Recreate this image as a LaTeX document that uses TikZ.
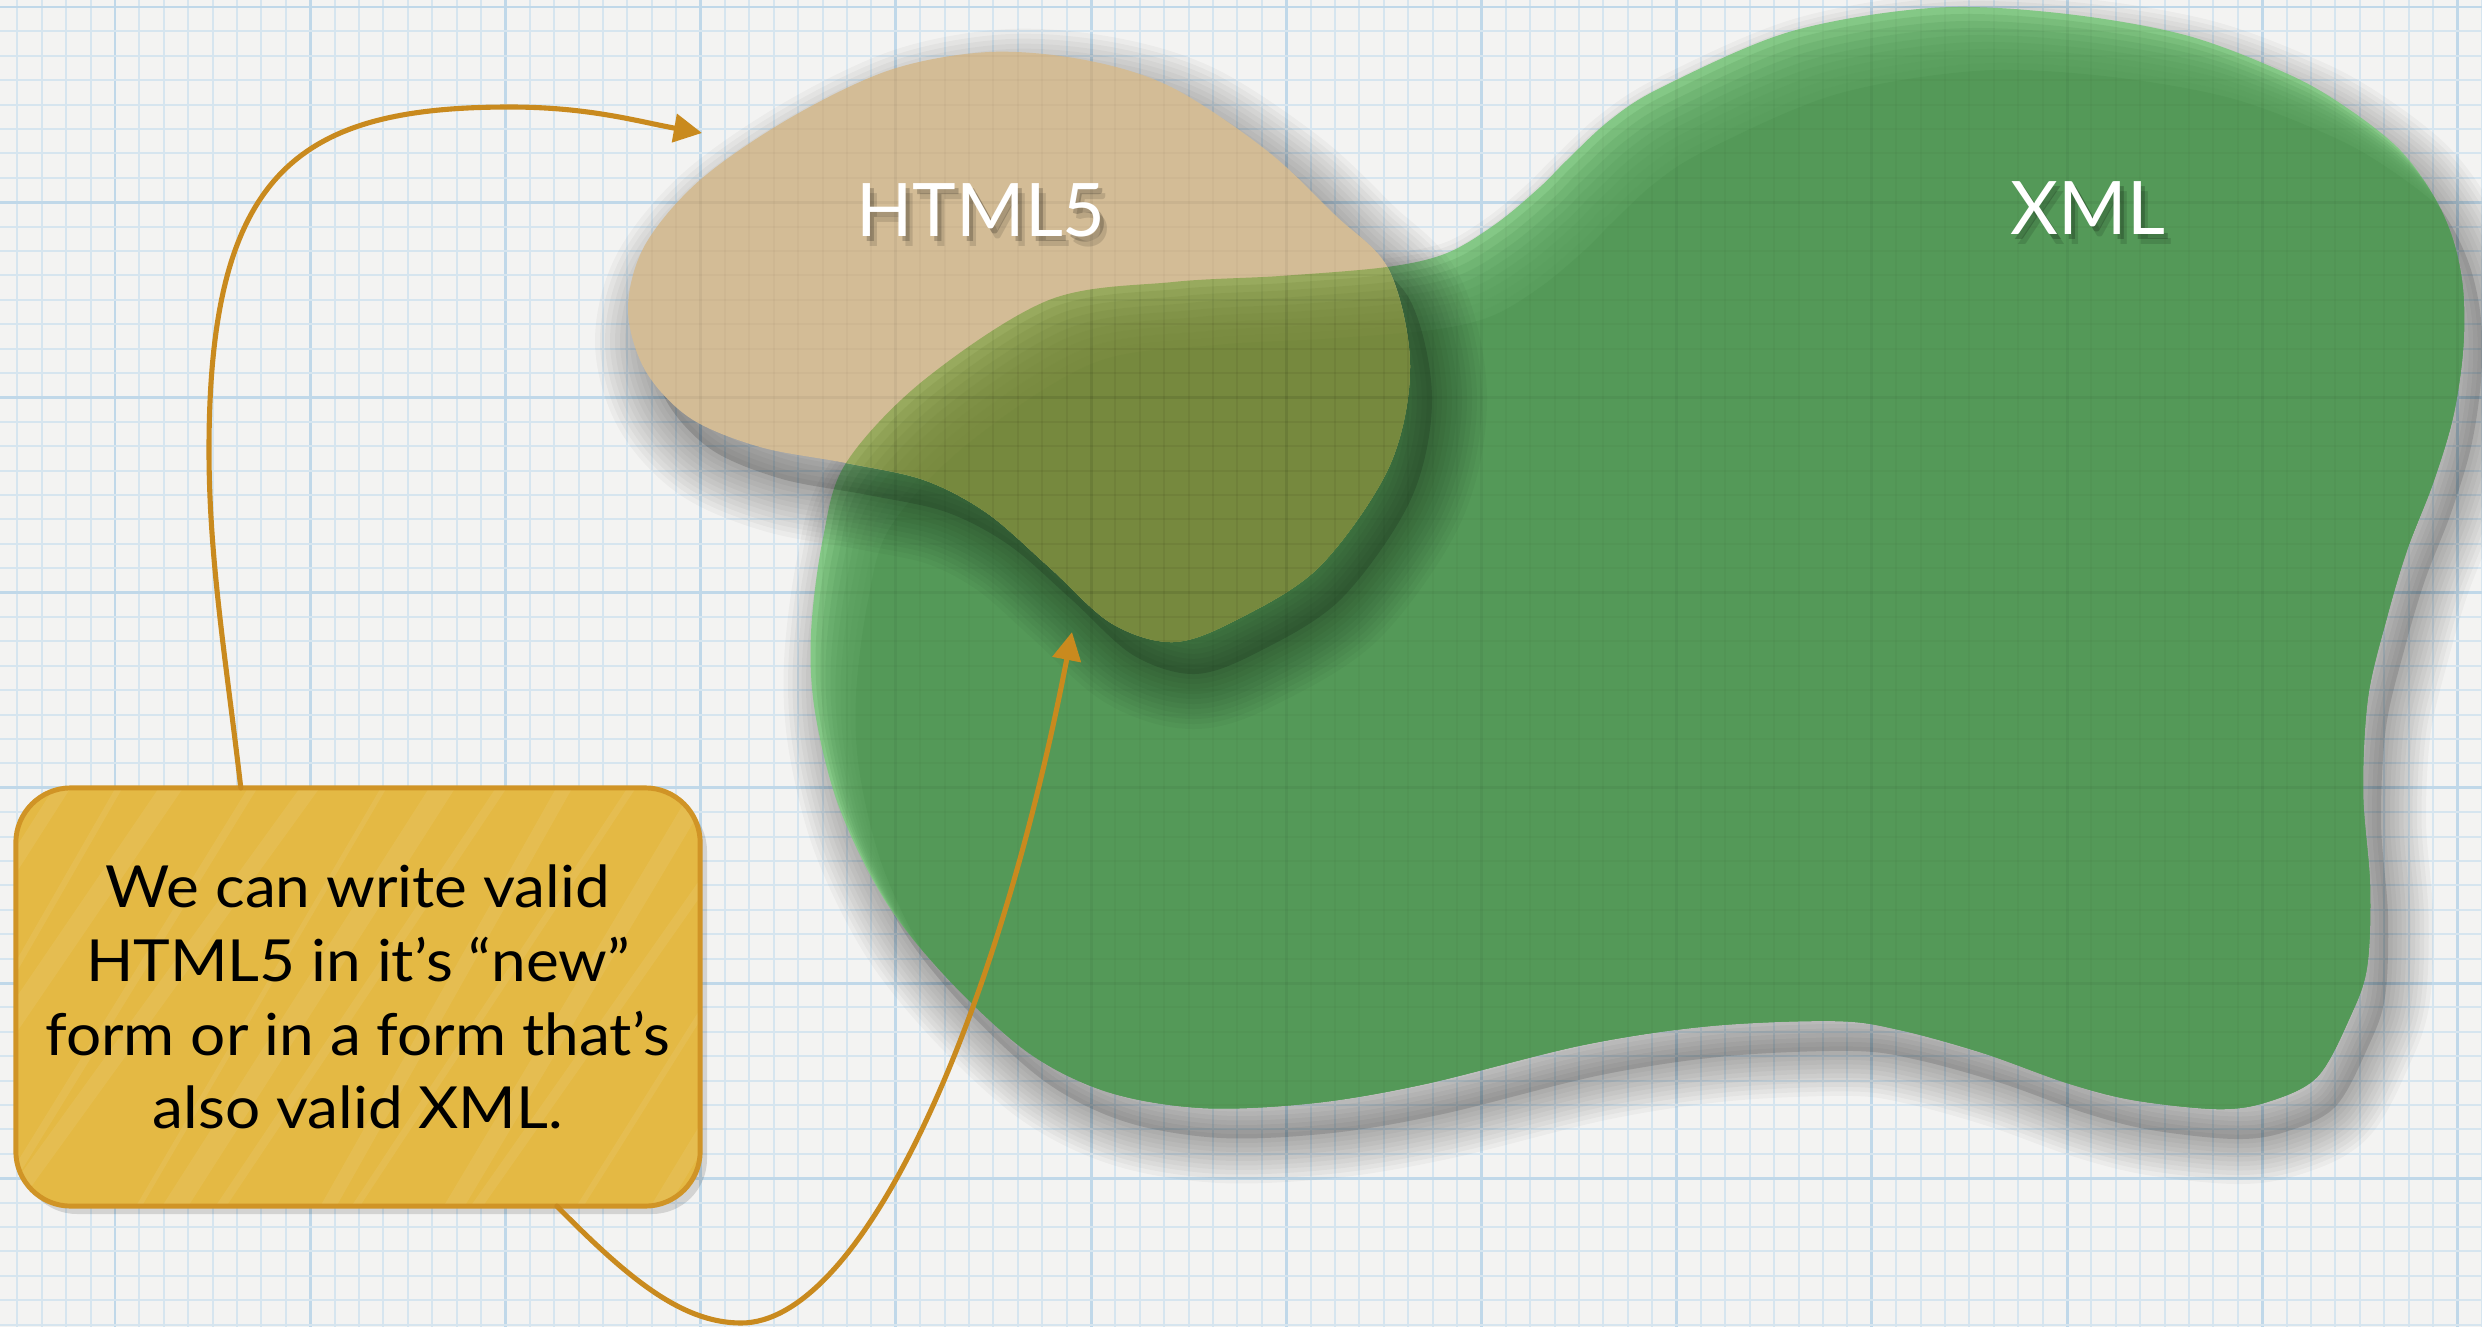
\documentclass[tikz,border=0pt]{standalone}
\usepackage{fontspec}
\setmainfont{Lato}
\newfontfamily\notefont{Lato}[FakeStretch=1.07]
\usetikzlibrary{arrows.meta,calc}
\definecolor{bgc}{RGB}{243,243,242}
\definecolor{gridminor}{RGB}{214,229,239}
\definecolor{gridmajor}{RGB}{192,216,233}
\definecolor{xmlgreen}{RGB}{84,153,88}
\definecolor{xmllight}{RGB}{132,200,134}
\definecolor{htmltan}{RGB}{211,188,150}
\definecolor{ovlp}{RGB}{118,137,62}
\definecolor{ovlplight}{RGB}{152,170,94}
\definecolor{arrowc}{RGB}{201,138,30}
\definecolor{notefill}{RGB}{228,185,68}
\definecolor{noteline}{RGB}{208,148,38}

\def\greenpath{plot[smooth cycle, tension=0.55] coordinates {
(846,463) (823,538) (811,633) (815,712) (839,807) (886,902) (950,981) (1029,1053) (1108,1092) (1203,1108) (1314,1103) (1425,1084) (1583,1045) (1710,1026) (1836,1021) (1900,1030) (1983,1053) (2067,1083) (2133,1100) (2217,1109) (2267,1102) (2317,1077) (2350,1017) (2367,967) (2370,886) (2363,792) (2368,697) (2387,617) (2407,550) (2433,483) (2453,417) (2463,350) (2463,290) (2453,240) (2433,195) (2400,150) (2350,110) (2290,75) (2185,35) (2058,13) (1931,8) (1789,32) (1662,87) (1610,120) (1567,160) (1540,187) (1497,223) (1447,253) (1387,267) (1280,276) (1173,282) (1049,300) (924,380)}}
\def\tanpath{plot[smooth cycle, tension=0.55] coordinates {
(1266,150) (1335,215) (1389,270) (1410,367) (1389,467) (1319,567) (1236,620) (1173,642) (1111,623) (1049,567) (987,513) (924,480) (846,463) (760,447) (690,418) (645,370) (628,309) (645,245) (700,180) (790,118) (890,70) (989,52) (1085,60) (1171,87)}}

\newcommand\mygrid[2]{%
  \foreach \k in {-4,...,97}{%
    \pgfmathsetmacro\gx{115+24.4*\k}%
    \pgfmathtruncatemacro\gm{mod(\k+8,8)}%
    \ifnum\gm=0 \draw[#2] (\gx,0) -- (\gx,1327);\else \draw[#1] (\gx,0) -- (\gx,1327);\fi}%
  \foreach \k in {0,...,54}{%
    \pgfmathsetmacro\gy{7+24.4*\k}%
    \pgfmathtruncatemacro\gm{mod(\k,8)}%
    \ifnum\gm=0 \draw[#2] (0,\gy) -- (2482,\gy);\else \draw[#1] (0,\gy) -- (2482,\gy);\fi}%
}

\tikzset{
  connector/.style={draw=arrowc, line width=1.45pt, line cap=round,
    -{Triangle[length=8pt,width=8pt]}},
  notebox/.style={draw=noteline, line width=1.4pt,
    rounded corners=0.55cm, minimum width=6.84cm, minimum height=4.18cm,
    outer sep=0pt, align=center, font=\notefont\fontsize{16.5}{21}\selectfont},
  lbl/.style={inner sep=0pt, font=\fontsize{21}{25}\selectfont, text=white},
  lblshadow/.style={inner sep=0pt, font=\fontsize{21}{25}\selectfont, text=black},
  streak/.style={white, opacity=0.07, line cap=round},
}

\begin{document}
\begin{tikzpicture}[x=0.01cm, y=-0.01cm, line join=round]
\useasboundingbox (0,0) rectangle (2482,1327);
% paper
\fill[bgc] (0,0) rectangle (2482,1327);
\mygrid{gridminor, line width=0.55pt}{gridmajor, line width=0.85pt}

% green shadow
\begin{scope}[shift={(18,30)}]
  \fill[black, opacity=0.12] \greenpath;
  \foreach \w in {9,18,...,90}{\draw[black, opacity=0.03, line width=\w*0.01cm] \greenpath;}
\end{scope}
% green blob with light inner edge
\fill[xmllight] \greenpath;
\begin{scope}
  \clip \greenpath;
  \foreach \k in {1,...,8}{\fill[xmlgreen, opacity=0.22, shift={(5*\k,7*\k)}] \greenpath;}
  \fill[xmlgreen, shift={(45,63)}] \greenpath;
\end{scope}

% tan shadow
\begin{scope}[shift={(22,32)}]
  \fill[black, opacity=0.14] \tanpath;
  \foreach \w in {10,20,...,110}{\draw[black, opacity=0.032, line width=\w*0.01cm] \tanpath;}
\end{scope}
\fill[htmltan] \tanpath;
% overlap
\begin{scope}
  \clip \tanpath;
  \fill[ovlplight] \greenpath;
  \clip \greenpath;
  \foreach \k in {1,...,8}{\fill[ovlp, opacity=0.22, shift={(5*\k,7*\k)}] \greenpath;}
  \fill[ovlp, shift={(45,63)}] \greenpath;
\end{scope}
% grid seen through the shapes
\begin{scope}
  \clip \greenpath;
  \mygrid{black, opacity=0.025, line width=0.55pt}{black, opacity=0.045, line width=0.85pt}
\end{scope}
\begin{scope}
  \clip \tanpath;
  \mygrid{black, opacity=0.025, line width=0.55pt}{black, opacity=0.045, line width=0.85pt}
\end{scope}

% labels with soft shadow
\node[lblshadow, opacity=0.12] at (988,220) {HTML5};
\node[lblshadow, opacity=0.2] at (985,215) {HTML5};
\node[lbl] (html) at (981,210) {HTML5};
\node[lblshadow, opacity=0.12] at (2095,218) {XML};
\node[lblshadow, opacity=0.2] at (2092,213) {XML};
\node[lbl] (xml) at (2088,208) {XML};

% note box
\fill[black, opacity=0.13, rounded corners=0.55cm] (22,796) rectangle (707,1214);
\fill[notefill, rounded corners=0.55cm] (16,788) rectangle (700,1206);
\begin{scope}
  \clip[rounded corners=0.55cm] (16,788) rectangle (700,1206);
  \foreach \s/\w/\t in {40/14/0,95/6/30,150/20/-20,230/8/10,290/16/-40,360/5/25,420/22/0,480/9/-15,540/14/35,610/7/-10,680/18/20,750/10/-30,820/6/5,890/15/15}{
    \draw[streak, line width=\w*0.01cm] (\s-260+\t,1230) -- (\s+40,760);}
\end{scope}
\node[notebox] (note) at (358,997) {We can write valid\\HTML5 in it’s “new”\\form or in a form that’s\\also valid XML.};

% connectors
\coordinate (a1s) at ($(note.north west)+(225,0)$);
\coordinate (a1e) at (702,133);
\coordinate (a2s) at ($(note.south west)+(541,0)$);
\coordinate (a2e) at (1072,632);
\draw[connector] (a1s) .. controls (226,660) and (209,560) .. (209,450)
  .. controls (209,170) and (300,107) .. (510,107)
  .. controls (590,107) and (640,122) .. (a1e);
\draw[connector] (a2s) .. controls (625,1275) and (680,1323) .. (741,1323)
  .. controls (860,1323) and (995,1030) .. (a2e);
\end{tikzpicture}
\end{document}
